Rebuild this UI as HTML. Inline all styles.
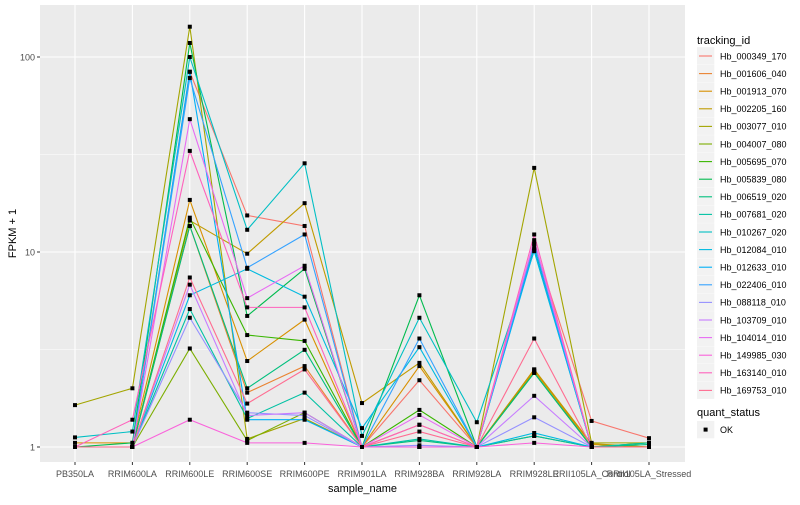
<!DOCTYPE html>
<html><head><meta charset="utf-8"><style>
body{margin:0;background:#fff;font-family:"Liberation Sans",sans-serif}
svg text{font-family:"Liberation Sans",sans-serif}
</style></head><body>
<svg id="c" width="800" height="500"></svg>
<script>
const categories=["PB350LA","RRIM600LA","RRIM600LE","RRIM600SE","RRIM600PE","RRIM901LA","RRIM928BA","RRIM928LA","RRIM928LE","RRII105LA_Control","RRII105LA_Stressed"];
const seriesNames=["Hb_000349_170","Hb_001606_040","Hb_001913_070","Hb_002205_160","Hb_003077_010","Hb_004007_080","Hb_005695_070","Hb_005839_080","Hb_006519_020","Hb_007681_020","Hb_010267_020","Hb_012084_010","Hb_012633_010","Hb_022406_010","Hb_088118_010","Hb_103709_010","Hb_104014_010","Hb_149985_030","Hb_163140_010","Hb_169753_010"];
const colors=["#F8766D","#EA8331","#D89000","#C09B00","#A3A500","#7CAE00","#39B600","#00BB4E","#00BF7D","#00C1A3","#00BFC4","#00BAE0","#00B0F6","#35A2FF","#9590FF","#C77CFF","#E76BF3","#FA62DB","#FF62BC","#FF6C91"];
const s0=[1,1,84,15.4,13.6,1,2.2,1,11,1.36,1.11];
const s1=[1,1,13.6,1.9,2.6,1,1.3,1,2.5,1,1];
const s2=[1.05,1.05,18.5,2.76,4.5,1,2.6,1,2.45,1.03,1];
const s3=[1,1,14.5,9.8,17.8,1.68,2.7,1,2.5,1.04,1];
const s4=[1.64,2.0,143,1.1,1.4,1,1,1,27,1.05,1.05];
const s5=[1,1,3.2,1.08,1.5,1,1,1,1.14,1,1];
const s6=[1,1,15,3.75,3.5,1,1.55,1,2.4,1,1.05];
const s7=[1,1.05,118,4.7,8.2,1,6.0,1,10.5,1,1];
const s8=[1,1,13.6,2.0,3.15,1,1.08,1,2.4,1,1.03];
const s9=[1,1,5.1,1.4,1.9,1,1.1,1,1.14,1,1.05];
const s10=[1.12,1.2,100,13,28.5,1.14,4.6,1.34,10.1,1,1];
const s11=[1,1,6,8.2,5.9,1.25,3.25,1,1.18,1,1];
const s12=[1,1,84,1.38,1.38,1,1,1,10.3,1,1];
const s13=[1,1,78,8.3,12.3,1,3.6,1,11,1,1];
const s14=[1,1,4.6,1.5,1.45,1,1.02,1,1.42,1,1];
const s15=[1,1,6.8,1.45,1.5,1,1,1,1.83,1,1];
const s16=[1,1,48,5.8,8.5,1,1.46,1,11.5,1,1];
const s17=[1,1,1.38,1.05,1.05,1,1,1,1.05,1,1];
const s18=[1,1.38,33,5.2,5.2,1,1.3,1,12.3,1,1];
const s19=[1,1,7.4,1.67,2.5,1,1.2,1,3.6,1,1];
const series=[s0,s1,s2,s3,s4,s5,s6,s7,s8,s9,s10,s11,s12,s13,s14,s15,s16,s17,s18,s19];
const yTicks=[1,10,100];
const yTickLabels=["1","10","100"];

const NS="http://www.w3.org/2000/svg";
const svg=document.getElementById('c');
function mk(t,a,p){const e=document.createElementNS(NS,t);for(const k in a)e.setAttribute(k,a[k]);(p||svg).appendChild(e);return e;}
const L=40,R=685,T=5,B=462;
const x0=75,dx=57.4;
function xs(i){return x0+i*dx;}
function ys(v){return 447-195*Math.log10(v);}
const panel=mk('rect',{x:L,y:T,width:R-L,height:B-T,fill:'#EBEBEB'});


// minor grid
[Math.sqrt(10),Math.sqrt(1000)].forEach(v=>mk('line',{x1:L,x2:R,y1:ys(v),y2:ys(v),stroke:'#fff','stroke-width':0.5}));
for(let i=0;i<categories.length-1;i++){}
yTicks.forEach((v,i)=>{
  mk('line',{x1:L,x2:R,y1:ys(v),y2:ys(v),stroke:'#fff','stroke-width':1.1});
  mk('line',{x1:L-3,x2:L,y1:ys(v),y2:ys(v),stroke:'#333','stroke-width':1});
  const t=mk('text',{x:L-5,y:ys(v)+3.5,'text-anchor':'end','font-size':9,fill:'#4d4d4d'});t.textContent=yTickLabels[i];
  
  
});
categories.forEach((c,i)=>{
  mk('line',{x1:xs(i),x2:xs(i),y1:T,y2:B,stroke:'#fff','stroke-width':1.1});
  mk('line',{x1:xs(i),x2:xs(i),y1:B,y2:B+3,stroke:'#333','stroke-width':1});
  const t=mk('text',{x:xs(i),y:477,'text-anchor':'middle','font-size':9,fill:'#4d4d4d'});t.textContent=c;
  
  
});
series.forEach((s,j)=>{
  const p=mk('polyline',{points:s.map((v,i)=>xs(i)+','+ys(v)).join(' '),fill:'none',stroke:colors[j],'stroke-width':1.1});
  
  
});
series.forEach((s,j)=>{s.forEach((v,i)=>{
  const r=mk('rect',{x:xs(i)-2,y:ys(v)-2,width:4,height:4,fill:'#000'});
  
  
});});
let t=mk('text',{x:(L+R)/2,y:492,'text-anchor':'middle','font-size':11,fill:'#000'});t.textContent='sample_name';


t=mk('text',{x:16,y:(T+B)/2,'text-anchor':'middle','font-size':11,fill:'#000',transform:'rotate(-90 16 '+(T+B)/2+')'});t.textContent='FPKM + 1';


// legend
t=mk('text',{x:697,y:44,'font-size':11,fill:'#000'});t.textContent='tracking_id';


seriesNames.forEach((n,j)=>{
  const y=56+j*17.6;
  const g=mk('g',{});
  
  
  mk('rect',{x:697,y:y-8.8,width:17.3,height:17.3,fill:'#F2F2F2'},g);
  mk('line',{x1:699,x2:712,y1:y,y2:y,stroke:colors[j],'stroke-width':1.1},g);
  const tt=mk('text',{x:720,y:y+3.3,'font-size':9,fill:'#000'},g);tt.textContent=n;
});
t=mk('text',{x:697,y:416,'font-size':11,fill:'#000'});t.textContent='quant_status';


const g2=mk('g',{});


mk('rect',{x:697,y:421,width:17.3,height:17.3,fill:'#F2F2F2'},g2);
mk('rect',{x:703.6,y:427.6,width:4,height:4,fill:'#000'},g2);
t=mk('text',{x:720,y:433,'font-size':9,fill:'#000'},g2);t.textContent='OK';
</script>
</body></html>
